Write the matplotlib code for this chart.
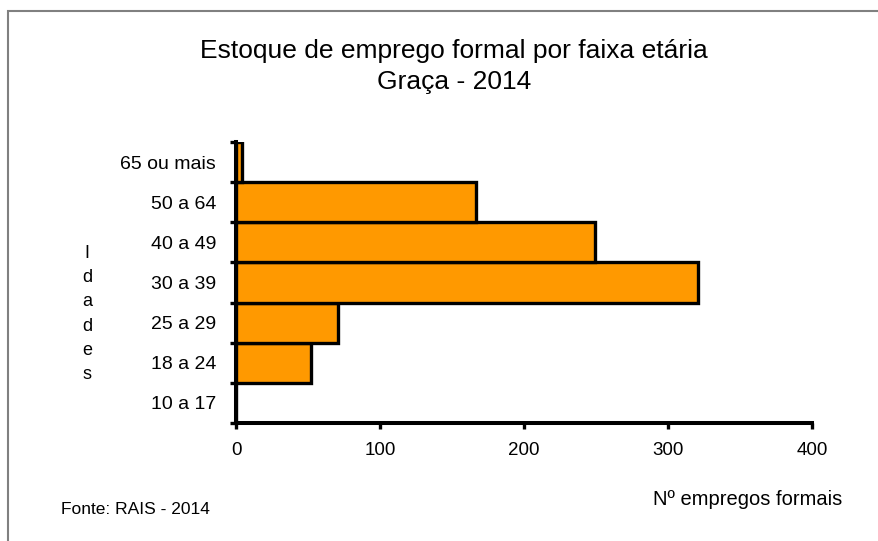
import matplotlib
matplotlib.use("Agg")
import matplotlib.pyplot as plt
from matplotlib.patches import Rectangle

plt.rcParams["font.family"] = ["Liberation Sans", "DejaVu Sans"]

# Data
faixas = ["10 a 17", "18 a 24", "25 a 29", "30 a 39", "40 a 49", "50 a 64", "65 ou mais"]
empregos = [0, 52, 71, 321, 249, 167, 4]
xticks = [0, 100, 200, 300, 400]

fig = plt.figure(figsize=(8.79, 5.41), dpi=100)
ax = fig.add_axes([0.2685, 0.2181, 0.6553, 0.5194])

pos = list(range(len(faixas)))
# orange shadow peeking out to the right/below of the outlined bars
ax.barh([p - 0.03 for p in pos], [v + 1.2 if v > 0 else 0 for v in empregos],
        height=1.0, color="#FF9900", linewidth=0, zorder=1)
ax.barh(pos, empregos, height=1.0, color="#FF9900",
        edgecolor="black", linewidth=2.4, zorder=2)

ax.set_xlim(0, 400)
ax.set_ylim(-0.5, len(faixas) - 0.5)
ax.set_xticks(xticks)
ax.set_xticklabels([str(t) for t in xticks], fontsize=13.5)

# category labels centred, ticks on the boundaries
ax.set_yticks(pos)
ax.set_yticklabels(faixas, fontsize=14)
ax.tick_params(axis="y", which="major", length=0, pad=14.4)
ax.set_yticks([p - 0.5 for p in pos] + [len(faixas) - 0.5], minor=True)
ax.tick_params(axis="y", which="minor", length=4.5, width=2.4, direction="out")
ax.tick_params(axis="x", length=4, width=2.4, direction="out", pad=9.5)

for s in ["top", "right"]:
    ax.spines[s].set_visible(False)
for s in ["left", "bottom"]:
    ax.spines[s].set_linewidth(2.9)
    ax.spines[s].set_zorder(3)

# title, two lines
fig.text(0.5165, 1 - 58 / 541, "Estoque de emprego formal por faixa etária",
         ha="center", va="baseline", fontsize=19)
fig.text(0.5165, 1 - 89 / 541, "Graça - 2014",
         ha="center", va="baseline", fontsize=19)

fig.text(0.099, 0.4196, "\n".join("Idades"), ha="center", va="center",
         fontsize=13, linespacing=1.54)
fig.text(0.851, 0.0758, "Nº empregos formais", ha="center", va="center", fontsize=14.5)
fig.text(0.0694, 0.059, "Fonte: RAIS - 2014", ha="left", va="center", fontsize=12.5)

# outer frame of the original picture
fig.patches.append(Rectangle((8 / 879, -0.1), 1.2, 1 - 10.7 / 541 + 0.1,
                             transform=fig.transFigure, fill=False,
                             edgecolor="#808080", linewidth=1.5))

fig.savefig("out.png", dpi=100)
